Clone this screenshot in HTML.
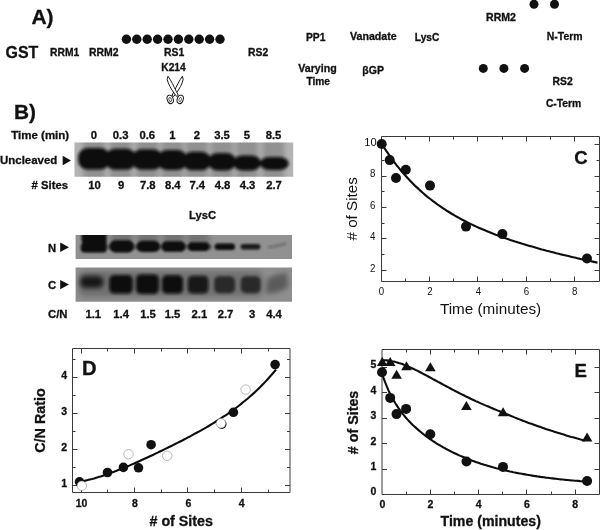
<!DOCTYPE html>
<html><head><meta charset="utf-8"><title>Figure</title>
<style>
html,body{margin:0;padding:0;background:#fff;}
body{width:600px;height:530px;overflow:hidden;}
svg{display:block;font-family:"Liberation Sans",sans-serif;fill:#111;}
</style></head><body>
<svg width="600" height="530" viewBox="0 0 600 530">
<defs>
<filter id="b1" x="-30%" y="-30%" width="160%" height="160%"><feGaussianBlur stdDeviation="1.6"/></filter>
<filter id="b2" x="-30%" y="-30%" width="160%" height="160%"><feGaussianBlur stdDeviation="2.4"/></filter>
<filter id="b4" x="-30%" y="-30%" width="160%" height="160%"><feGaussianBlur stdDeviation="1.7"/></filter>
<filter id="b3" x="-30%" y="-30%" width="160%" height="160%"><feGaussianBlur stdDeviation="1.1"/></filter>
<filter id="noop" x="0" y="0" width="100%" height="100%" filterUnits="userSpaceOnUse"><feOffset dx="0" dy="0"/></filter>
<clipPath id="cg1"><rect x="74.5" y="142.6" width="218.7" height="34.1"/></clipPath>
<clipPath id="cg2"><rect x="75.6" y="235" width="216.4" height="23.9"/></clipPath>
<clipPath id="cg3"><rect x="75.6" y="267.5" width="216.4" height="34.3"/></clipPath>
</defs>
<rect width="600" height="530" fill="#fff"/>
<g filter="url(#noop)">

<g id="panelA">
<text x="31.4" y="23.8" font-size="20.6" font-weight="bold" stroke="#111" stroke-width="0.3" textLength="22.2" lengthAdjust="spacingAndGlyphs">A)</text>
<text x="5.5" y="58.0" font-size="16.6" font-weight="bold" stroke="#111" stroke-width="0.3" textLength="32.8" lengthAdjust="spacingAndGlyphs">GST</text>
<text x="50" y="56.4" font-size="10.4" font-weight="bold" stroke="#111" stroke-width="0.3" textLength="29.2" lengthAdjust="spacingAndGlyphs">RRM1</text>
<text x="89" y="56.4" font-size="10.4" font-weight="bold" stroke="#111" stroke-width="0.3" textLength="29.6" lengthAdjust="spacingAndGlyphs">RRM2</text>
<circle cx="126.4" cy="39.2" r="4.7"/>
<circle cx="136.8" cy="39.2" r="4.7"/>
<circle cx="147.2" cy="39.2" r="4.7"/>
<circle cx="157.6" cy="39.2" r="4.7"/>
<circle cx="168.0" cy="39.2" r="4.7"/>
<circle cx="178.4" cy="39.2" r="4.7"/>
<circle cx="188.8" cy="39.2" r="4.7"/>
<circle cx="199.2" cy="39.2" r="4.7"/>
<circle cx="209.6" cy="39.2" r="4.7"/>
<circle cx="220.0" cy="39.2" r="4.7"/>
<text x="164" y="56.1" font-size="10.4" font-weight="bold" stroke="#111" stroke-width="0.3">RS1</text>
<text x="248" y="56.1" font-size="10.4" font-weight="bold" stroke="#111" stroke-width="0.3">RS2</text>
<text x="161.3" y="71.2" font-size="10.2" font-weight="bold" stroke="#111" stroke-width="0.3" textLength="24.4" lengthAdjust="spacingAndGlyphs">K214</text>
<g fill="#fff" stroke="#111" stroke-width="0.95" stroke-linejoin="round">
<ellipse cx="170.2" cy="99.4" rx="3" ry="4.3" transform="rotate(-18 170.2 99.4)"/>
<ellipse cx="180.2" cy="99.4" rx="3" ry="4.3" transform="rotate(18 180.2 99.4)"/>
<ellipse cx="170.2" cy="99.6" rx="1.2" ry="2.2" transform="rotate(-18 170.2 99.6)" stroke-width="0.7"/>
<ellipse cx="180.2" cy="99.6" rx="1.2" ry="2.2" transform="rotate(18 180.2 99.6)" stroke-width="0.6"/>
<path d="M182.4,76.2 L183.2,79.4 C182.3,83.8 179.3,89.2 176.2,93.2 L173.7,96.5 L172.0,95.3 L174.0,91.6 C176.4,86.6 179.4,80.4 182.4,76.2 Z"/>
<path d="M168.0,76.2 L167.2,79.4 C168.1,83.8 171.1,89.2 174.2,93.2 L176.7,96.5 L178.4,95.3 L176.4,91.6 C174,86.6 171,80.4 168.0,76.2 Z"/>
</g>
<text x="306" y="40.6" font-size="10.3" font-weight="bold" stroke="#111" stroke-width="0.3">PP1</text>
<text x="350" y="40.2" font-size="10.3" font-weight="bold" stroke="#111" stroke-width="0.3" textLength="46.7" lengthAdjust="spacingAndGlyphs">Vanadate</text>
<text x="414.8" y="40.6" font-size="10.3" font-weight="bold" stroke="#111" stroke-width="0.3" textLength="24.5" lengthAdjust="spacingAndGlyphs">LysC</text>
<text x="298.3" y="72.2" font-size="10.3" font-weight="bold" stroke="#111" stroke-width="0.3" textLength="38.4" lengthAdjust="spacingAndGlyphs">Varying</text>
<text x="306.5" y="85" font-size="10.3" font-weight="bold" stroke="#111" stroke-width="0.3" textLength="23.5" lengthAdjust="spacingAndGlyphs">Time</text>
<text x="362.3" y="74.3" font-size="10.3" font-weight="bold" stroke="#111" stroke-width="0.3" textLength="21.6" lengthAdjust="spacingAndGlyphs">&#946;GP</text>
<circle cx="534" cy="4.2" r="4.5"/><circle cx="554.5" cy="4.2" r="4.5"/>
<text x="486" y="21.2" font-size="10.3" font-weight="bold" stroke="#111" stroke-width="0.3" textLength="30" lengthAdjust="spacingAndGlyphs">RRM2</text>
<text x="546.8" y="39.9" font-size="10.3" font-weight="bold" stroke="#111" stroke-width="0.3" textLength="35.7" lengthAdjust="spacingAndGlyphs">N-Term</text>
<circle cx="483.3" cy="68.4" r="4.5"/>
<circle cx="503.9" cy="68.4" r="4.5"/>
<circle cx="524.6" cy="68.4" r="4.5"/>
<text x="552.6" y="85.3" font-size="10.3" font-weight="bold" stroke="#111" stroke-width="0.3" textLength="20.1" lengthAdjust="spacingAndGlyphs">RS2</text>
<text x="545.9" y="106.7" font-size="10.3" font-weight="bold" stroke="#111" stroke-width="0.3" textLength="35.4" lengthAdjust="spacingAndGlyphs">C-Term</text>
</g>
<g id="panelB">
<text x="14.0" y="119.4" font-size="20.6" font-weight="bold" stroke="#111" stroke-width="0.3" textLength="22" lengthAdjust="spacingAndGlyphs">B)</text>
<text x="11.2" y="138.8" font-size="11.3" font-weight="bold" stroke="#111" stroke-width="0.3" textLength="58" lengthAdjust="spacingAndGlyphs">Time (min)</text>
<text x="94" y="138.8" font-size="11.3" font-weight="bold" stroke="#111" stroke-width="0.3" text-anchor="middle">0</text>
<text x="120.7" y="138.8" font-size="11.3" font-weight="bold" stroke="#111" stroke-width="0.3" text-anchor="middle">0.3</text>
<text x="147.3" y="138.8" font-size="11.3" font-weight="bold" stroke="#111" stroke-width="0.3" text-anchor="middle">0.6</text>
<text x="172.3" y="138.8" font-size="11.3" font-weight="bold" stroke="#111" stroke-width="0.3" text-anchor="middle">1</text>
<text x="196.8" y="138.8" font-size="11.3" font-weight="bold" stroke="#111" stroke-width="0.3" text-anchor="middle">2</text>
<text x="222" y="138.8" font-size="11.3" font-weight="bold" stroke="#111" stroke-width="0.3" text-anchor="middle">3.5</text>
<text x="247" y="138.8" font-size="11.3" font-weight="bold" stroke="#111" stroke-width="0.3" text-anchor="middle">5</text>
<text x="273.5" y="138.8" font-size="11.3" font-weight="bold" stroke="#111" stroke-width="0.3" text-anchor="middle">8.5</text>
<text x="94.5" y="189.4" font-size="11.3" font-weight="bold" stroke="#111" stroke-width="0.3" text-anchor="middle">10</text>
<text x="121.2" y="189.4" font-size="11.3" font-weight="bold" stroke="#111" stroke-width="0.3" text-anchor="middle">9</text>
<text x="147.8" y="189.4" font-size="11.3" font-weight="bold" stroke="#111" stroke-width="0.3" text-anchor="middle">7.8</text>
<text x="172.8" y="189.4" font-size="11.3" font-weight="bold" stroke="#111" stroke-width="0.3" text-anchor="middle">8.4</text>
<text x="197.3" y="189.4" font-size="11.3" font-weight="bold" stroke="#111" stroke-width="0.3" text-anchor="middle">7.4</text>
<text x="222.5" y="189.4" font-size="11.3" font-weight="bold" stroke="#111" stroke-width="0.3" text-anchor="middle">4.8</text>
<text x="247.5" y="189.4" font-size="11.3" font-weight="bold" stroke="#111" stroke-width="0.3" text-anchor="middle">4.3</text>
<text x="274.0" y="189.4" font-size="11.3" font-weight="bold" stroke="#111" stroke-width="0.3" text-anchor="middle">2.7</text>
<text x="0" y="164.2" font-size="11.3" font-weight="bold" stroke="#111" stroke-width="0.3" textLength="57.3" lengthAdjust="spacingAndGlyphs">Uncleaved</text>
<path d="M62.7,155.8 L71,160.5 L62.7,165.2 Z"/>
<text x="31.5" y="189.4" font-size="11.3" font-weight="bold" stroke="#111" stroke-width="0.3" textLength="36.5" lengthAdjust="spacingAndGlyphs"># Sites</text>
<g clip-path="url(#cg1)"><rect x="70" y="140" width="228" height="40" fill="#b3b3b3"/>
<g filter="url(#b2)" fill="#000" opacity="0.19">
<rect x="83.2" y="136" width="21.6" height="48"/>
<rect x="109.9" y="136" width="21.6" height="48"/>
<rect x="136.5" y="136" width="21.6" height="48"/>
<rect x="161.5" y="136" width="21.6" height="48"/>
<rect x="186.0" y="136" width="21.6" height="48"/>
<rect x="211.2" y="136" width="21.6" height="48"/>
<rect x="236.2" y="136" width="21.6" height="48"/>
<rect x="262.7" y="136" width="21.6" height="48"/>
</g>
<g filter="url(#b4)" fill="#0b0b0b">
<rect x="78.1" y="148" width="31.8" height="21.599999999999994" rx="9.5" ry="9.5"/>
<rect x="105.3" y="148.8" width="30.8" height="20.899999999999977" rx="9.5" ry="9.5"/>
<rect x="131.9" y="149.3" width="30.8" height="20.5" rx="9.5" ry="9.5"/>
<rect x="157.4" y="150" width="29.8" height="20" rx="9.5" ry="9.5"/>
<rect x="182.4" y="151.8" width="28.8" height="18.5" rx="9.5" ry="9.2"/>
<rect x="207.9" y="153" width="28.2" height="17.400000000000006" rx="9.5" ry="8.7"/>
<rect x="233.1" y="155.4" width="27.8" height="15.0" rx="9.5" ry="7.5"/>
<rect x="259.8" y="157" width="29.0" height="12.900000000000006" rx="9.5" ry="6.5"/>
</g></g>
<text x="189" y="218.5" font-size="11.3" font-weight="bold" stroke="#111" stroke-width="0.3" textLength="27" lengthAdjust="spacingAndGlyphs">LysC</text>
<text x="48" y="251.7" font-size="11.3" font-weight="bold" stroke="#111" stroke-width="0.3">N</text>
<path d="M60.2,242.6 L69,247.3 L60.2,252 Z"/>
<text x="48" y="288.9" font-size="11.3" font-weight="bold" stroke="#111" stroke-width="0.3">C</text>
<path d="M60.2,279.9 L69,284.6 L60.2,289.3 Z"/>
<g clip-path="url(#cg2)"><rect x="70" y="230" width="228" height="34" fill="#919191"/>
<g filter="url(#b2)" fill="#000" opacity="0.2">
<rect x="111.0" y="226" width="21" height="22"/>
<rect x="137.5" y="226" width="21" height="22"/>
<rect x="163.0" y="226" width="21" height="22"/>
<rect x="188.0" y="226" width="21" height="22"/>
</g>
<g filter="url(#b3)" fill="#0a0a0a">
<path d="M81.5,230 H106.5 V250 Q106.5,252.5 103,252.5 H85 Q80.8,252.5 80.8,249 V245.5 Q83,243 81.5,239.5 Z"/>
<rect x="100" y="244.5" width="112" height="5" opacity="0.28"/>
<rect x="109.5" y="240.3" width="24.5" height="12.099999999999994" rx="6.0" opacity="1"/>
<rect x="136.5" y="240.8" width="23.5" height="11.199999999999989" rx="5.6" opacity="1"/>
<rect x="161.5" y="241.3" width="24.0" height="10.5" rx="5.2" opacity="1"/>
<rect x="187.8" y="242.2" width="21.799999999999983" height="8.700000000000017" rx="4.4" opacity="1"/>
<rect x="214.6" y="243.4" width="20.400000000000006" height="6.5" rx="3.2" opacity="1"/>
<rect x="240.6" y="244.0" width="19.799999999999983" height="5.5" rx="2.8" opacity="0.9"/>
<path d="M268,247.3 Q277,246.6 286,243.4" stroke="#222" stroke-width="2.2" fill="none" opacity="0.33"/>
</g></g>
<g clip-path="url(#cg3)"><rect x="70" y="262" width="228" height="44" fill="#8e8e8e"/>
<g filter="url(#b2)" fill="#000" opacity="0.2">
<rect x="79" y="271" width="184" height="26" rx="6"/>
</g>
<g filter="url(#b2)" fill="#080808">
<rect x="80" y="276" width="23.5" height="12" rx="5" opacity="0.8"/>
</g>
<g filter="url(#b1)" fill="#080808">
<rect x="109.3" y="275" width="23.39999999999999" height="18.600000000000023" rx="5" opacity="1"/>
<rect x="136" y="274.4" width="22.80000000000001" height="19.600000000000023" rx="5" opacity="1"/>
<rect x="162" y="275.2" width="21" height="18.400000000000034" rx="5" opacity="1"/>
<rect x="187.8" y="275.8" width="20.599999999999994" height="17.80000000000001" rx="5" opacity="0.9"/>
<rect x="214.2" y="276.3" width="20.80000000000001" height="17.0" rx="5" opacity="0.64"/>
<rect x="240.8" y="276.3" width="19.80000000000001" height="17.0" rx="5" opacity="0.64"/>
</g>
<g filter="url(#b2)" fill="#080808">
<path d="M266,294 L267,279 Q275,274 287,273 L288,287 Q280,293 266,294 Z" opacity="0.36"/>
</g></g>
<text x="48" y="318.3" font-size="11.3" font-weight="bold" stroke="#111" stroke-width="0.3" textLength="19.5" lengthAdjust="spacingAndGlyphs">C/N</text>
<text x="93.3" y="318.3" font-size="11.3" font-weight="bold" stroke="#111" stroke-width="0.3" text-anchor="middle">1.1</text>
<text x="121.2" y="318.3" font-size="11.3" font-weight="bold" stroke="#111" stroke-width="0.3" text-anchor="middle">1.4</text>
<text x="148" y="318.3" font-size="11.3" font-weight="bold" stroke="#111" stroke-width="0.3" text-anchor="middle">1.5</text>
<text x="172.5" y="318.3" font-size="11.3" font-weight="bold" stroke="#111" stroke-width="0.3" text-anchor="middle">1.5</text>
<text x="199.4" y="318.3" font-size="11.3" font-weight="bold" stroke="#111" stroke-width="0.3" text-anchor="middle">2.1</text>
<text x="225.5" y="318.3" font-size="11.3" font-weight="bold" stroke="#111" stroke-width="0.3" text-anchor="middle">2.7</text>
<text x="252.2" y="318.3" font-size="11.3" font-weight="bold" stroke="#111" stroke-width="0.3" text-anchor="middle">3</text>
<text x="274" y="318.3" font-size="11.3" font-weight="bold" stroke="#111" stroke-width="0.3" text-anchor="middle">4.4</text>
</g>
<g id="panelC">
<g stroke="#3a3a3a" stroke-width="1" fill="none">
<path d="M381.5,136.5 H599.5 V281.5 H381.5 Z"/>
<path d="M405.5,281.5 v-3 M405.5,136.5 v3 M429.5,281.5 v-5 M429.5,136.5 v5 M453.5,281.5 v-3 M453.5,136.5 v3 M477.5,281.5 v-5 M477.5,136.5 v5 M502.5,281.5 v-3 M502.5,136.5 v3 M526.5,281.5 v-5 M526.5,136.5 v5 M550.5,281.5 v-3 M550.5,136.5 v3 M574.5,281.5 v-5 M574.5,136.5 v5 M381.5,270.5 h5 M599.5,270.5 h-5 M381.5,254.5 h3 M599.5,254.5 h-3 M381.5,238.5 h5 M599.5,238.5 h-5 M381.5,223.5 h3 M599.5,223.5 h-3 M381.5,207.5 h5 M599.5,207.5 h-5 M381.5,191.5 h3 M599.5,191.5 h-3 M381.5,176.5 h5 M599.5,176.5 h-5 M381.5,160.5 h3 M599.5,160.5 h-3 M381.5,144.5 h5 M599.5,144.5 h-5 "/></g>
<text x="375.5" y="271.5" font-size="10" text-anchor="end" textLength="5.4" lengthAdjust="spacingAndGlyphs">2</text>
<text x="375.5" y="240.1" font-size="10" text-anchor="end" textLength="5.4" lengthAdjust="spacingAndGlyphs">4</text>
<text x="375.5" y="208.5" font-size="10" text-anchor="end" textLength="5.4" lengthAdjust="spacingAndGlyphs">6</text>
<text x="375.5" y="177.2" font-size="10" text-anchor="end" textLength="5.4" lengthAdjust="spacingAndGlyphs">8</text>
<text x="364.3" y="145.6" font-size="10" textLength="12.3" lengthAdjust="spacingAndGlyphs">10</text>
<text x="381.5" y="295" font-size="10" text-anchor="middle" textLength="5.4" lengthAdjust="spacingAndGlyphs">0</text>
<text x="429.94" y="295" font-size="10" text-anchor="middle" textLength="5.4" lengthAdjust="spacingAndGlyphs">2</text>
<text x="478.38" y="295" font-size="10" text-anchor="middle" textLength="5.4" lengthAdjust="spacingAndGlyphs">4</text>
<text x="526.52" y="295" font-size="10" text-anchor="middle" textLength="5.4" lengthAdjust="spacingAndGlyphs">6</text>
<text x="574.66" y="295" font-size="10" text-anchor="middle" textLength="5.4" lengthAdjust="spacingAndGlyphs">8</text>
<text x="439.9" y="313.8" font-size="14.3" textLength="101.3" lengthAdjust="spacingAndGlyphs">Time (minutes)</text>
<text transform="translate(356.7,240.5) rotate(-90)" font-size="14.3" textLength="63.3" lengthAdjust="spacingAndGlyphs"># of Sites</text>
<text x="574.3" y="163.6" font-size="18.5" font-weight="bold" stroke="#111" stroke-width="0.3">C</text>
<path d="M381.8,143.9 L384.2,147.7 L386.6,151.4 L389.1,154.9 L391.5,158.3 L393.9,161.6 L396.3,164.8 L398.8,167.8 L401.2,170.8 L403.6,173.6 L406.0,176.3 L408.5,179.0 L410.9,181.5 L413.3,184.0 L415.7,186.4 L418.2,188.6 L420.6,190.9 L423.0,193.0 L425.4,195.1 L427.8,197.1 L430.3,199.0 L432.7,200.9 L435.1,202.7 L437.5,204.5 L440.0,206.2 L442.4,207.8 L444.8,209.4 L447.2,211.0 L449.7,212.5 L452.1,214.0 L454.5,215.4 L456.9,216.8 L459.4,218.1 L461.8,219.5 L464.2,220.7 L466.6,222.0 L469.0,223.2 L471.5,224.4 L473.9,225.5 L476.3,226.6 L478.7,227.7 L481.2,228.8 L483.6,229.8 L486.0,230.8 L488.4,231.8 L490.9,232.8 L493.3,233.7 L495.7,234.7 L498.1,235.6 L500.6,236.5 L503.0,237.3 L505.4,238.2 L507.8,239.0 L510.3,239.9 L512.7,240.7 L515.1,241.5 L517.5,242.2 L519.9,243.0 L522.4,243.8 L524.8,244.5 L527.2,245.2 L529.6,245.9 L532.1,246.6 L534.5,247.3 L536.9,248.0 L539.3,248.7 L541.8,249.4 L544.2,250.0 L546.6,250.7 L549.0,251.3 L551.5,251.9 L553.9,252.5 L556.3,253.2 L558.7,253.8 L561.1,254.4 L563.6,254.9 L566.0,255.5 L568.4,256.1 L570.8,256.7 L573.3,257.3 L575.7,257.8 L578.1,258.4 L580.5,258.9 L583.0,259.5 L585.4,260.0 L587.8,260.5 L590.2,261.1 L592.7,261.6 L595.1,262.1 L597.5,262.6" fill="none" stroke="#0d0d0d" stroke-width="2.1"/>
<circle cx="381.7" cy="144" r="5"/>
<circle cx="389.7" cy="160.1" r="5"/>
<circle cx="396" cy="178" r="5"/>
<circle cx="405.8" cy="169.7" r="5"/>
<circle cx="430" cy="185.6" r="5"/>
<circle cx="466" cy="226.6" r="5"/>
<circle cx="502.4" cy="234.1" r="5"/>
<circle cx="587" cy="258.5" r="5"/>
</g>
<g id="panelD">
<g stroke="#3a3a3a" stroke-width="1" fill="none">
<path d="M72.5,348.5 H290.0 V492.5 H72.5 Z"/>
<path d="M268.5,492.5 v-3 M268.5,348.5 v3 M241.5,492.5 v-5 M241.5,348.5 v5 M214.5,492.5 v-3 M214.5,348.5 v3 M187.5,492.5 v-5 M187.5,348.5 v5 M161.5,492.5 v-3 M161.5,348.5 v3 M134.5,492.5 v-5 M134.5,348.5 v5 M107.5,492.5 v-3 M107.5,348.5 v3 M81.5,492.5 v-5 M81.5,348.5 v5 M72.5,485.5 h5 M290.0,485.5 h-5 M72.5,467.5 h3 M290.0,467.5 h-3 M72.5,449.5 h5 M290.0,449.5 h-5 M72.5,431.5 h3 M290.0,431.5 h-3 M72.5,413.5 h5 M290.0,413.5 h-5 M72.5,395.5 h3 M290.0,395.5 h-3 M72.5,377.5 h5 M290.0,377.5 h-5 M72.5,359.5 h3 M290.0,359.5 h-3 "/></g>
<text x="67.0" y="486.6" font-size="10.5" font-weight="bold" stroke="#111" stroke-width="0.3" text-anchor="end">1</text>
<text x="67.0" y="450.6" font-size="10.5" font-weight="bold" stroke="#111" stroke-width="0.3" text-anchor="end">2</text>
<text x="67.0" y="414.6" font-size="10.5" font-weight="bold" stroke="#111" stroke-width="0.3" text-anchor="end">3</text>
<text x="67.0" y="378.6" font-size="10.5" font-weight="bold" stroke="#111" stroke-width="0.3" text-anchor="end">4</text>
<text x="81.5" y="506.9" font-size="10.5" font-weight="bold" stroke="#111" stroke-width="0.3" text-anchor="middle">10</text>
<text x="134.9" y="506.9" font-size="10.5" font-weight="bold" stroke="#111" stroke-width="0.3" text-anchor="middle">8</text>
<text x="188.29999999999998" y="506.9" font-size="10.5" font-weight="bold" stroke="#111" stroke-width="0.3" text-anchor="middle">6</text>
<text x="241.7" y="506.9" font-size="10.5" font-weight="bold" stroke="#111" stroke-width="0.3" text-anchor="middle">4</text>
<text x="149.5" y="526.1" font-size="14" font-weight="bold" stroke="#111" stroke-width="0.3" textLength="63.4" lengthAdjust="spacingAndGlyphs"># of Sites</text>
<text transform="translate(44.6,452.8) rotate(-90)" font-size="14" font-weight="bold" stroke="#111" stroke-width="0.3" textLength="64.6" lengthAdjust="spacingAndGlyphs">C/N Ratio</text>
<text x="82" y="374.7" font-size="19.5" font-weight="bold" stroke="#111" stroke-width="0.3" textLength="14.6" lengthAdjust="spacingAndGlyphs">D</text>
<path d="M81.0,481.4 L83.2,481.0 L85.4,480.6 L87.6,480.1 L89.8,479.5 L92.0,479.0 L94.1,478.4 L96.3,477.7 L98.5,477.1 L100.7,476.4 L102.9,475.7 L105.1,475.0 L107.3,474.2 L109.5,473.4 L111.7,472.6 L113.9,471.8 L116.1,470.9 L118.2,470.1 L120.4,469.2 L122.6,468.3 L124.8,467.4 L127.0,466.5 L129.2,465.6 L131.4,464.6 L133.6,463.7 L135.8,462.7 L138.0,461.7 L140.2,460.8 L142.3,459.8 L144.5,458.8 L146.7,457.8 L148.9,456.7 L151.1,455.7 L153.3,454.7 L155.5,453.6 L157.7,452.6 L159.9,451.5 L162.1,450.5 L164.3,449.4 L166.4,448.4 L168.6,447.3 L170.8,446.2 L173.0,445.1 L175.2,444.0 L177.4,442.9 L179.6,441.8 L181.8,440.7 L184.0,439.5 L186.2,438.4 L188.4,437.2 L190.6,436.1 L192.7,434.9 L194.9,433.7 L197.1,432.5 L199.3,431.3 L201.5,430.1 L203.7,428.8 L205.9,427.6 L208.1,426.3 L210.3,425.0 L212.5,423.7 L214.7,422.3 L216.8,421.0 L219.0,419.6 L221.2,418.2 L223.4,416.7 L225.6,415.3 L227.8,413.8 L230.0,412.2 L232.2,410.7 L234.4,409.1 L236.6,407.5 L238.8,405.8 L240.9,404.1 L243.1,402.3 L245.3,400.5 L247.5,398.7 L249.7,396.8 L251.9,394.9 L254.1,392.9 L256.3,390.8 L258.5,388.7 L260.7,386.6 L262.9,384.3 L265.0,382.1 L267.2,379.7 L269.4,377.3 L271.6,374.8 L273.8,372.2 L276.0,369.6" fill="none" stroke="#0d0d0d" stroke-width="2.1"/>
<circle cx="79.5" cy="481.8" r="4.8"/>
<circle cx="107.5" cy="472.5" r="4.8"/>
<circle cx="123.4" cy="467.4" r="4.8"/>
<circle cx="138.5" cy="467.8" r="4.8"/>
<circle cx="151.1" cy="444.7" r="4.8"/>
<circle cx="221.8" cy="424.1" r="4.8"/>
<circle cx="233.4" cy="412.3" r="4.8"/>
<circle cx="275.1" cy="364.6" r="4.8"/>
<circle cx="81.8" cy="485.8" r="4.75" fill="#fff" stroke="#777" stroke-width="0.5"/>
<circle cx="128.5" cy="454.3" r="4.75" fill="#fff" stroke="#777" stroke-width="0.5"/>
<circle cx="167.2" cy="455.8" r="4.75" fill="#fff" stroke="#777" stroke-width="0.5"/>
<circle cx="221" cy="423.3" r="4.75" fill="#fff" stroke="#777" stroke-width="0.5"/>
<circle cx="245.6" cy="389.6" r="4.75" fill="#fff" stroke="#777" stroke-width="0.5"/>
</g>
<g id="panelE">
<g stroke="#3a3a3a" stroke-width="1" fill="none">
<path d="M382.0,349.5 H599.5 V494.5 H382.0 Z"/>
<path d="M406.5,494.5 v-3 M406.5,349.5 v3 M430.5,494.5 v-5 M430.5,349.5 v5 M454.5,494.5 v-3 M454.5,349.5 v3 M478.5,494.5 v-5 M478.5,349.5 v5 M502.5,494.5 v-3 M502.5,349.5 v3 M526.5,494.5 v-5 M526.5,349.5 v5 M551.5,494.5 v-3 M551.5,349.5 v3 M575.5,494.5 v-5 M575.5,349.5 v5 M382.0,469.5 h5 M599.5,469.5 h-5 M382.0,443.5 h5 M599.5,443.5 h-5 M382.0,418.5 h5 M599.5,418.5 h-5 M382.0,392.5 h5 M599.5,392.5 h-5 M382.0,367.5 h5 M599.5,367.5 h-5 "/></g>
<text x="376.3" y="494.9" font-size="10.5" font-weight="bold" stroke="#111" stroke-width="0.3" text-anchor="end">0</text>
<text x="376.3" y="469.9" font-size="10.5" font-weight="bold" stroke="#111" stroke-width="0.3" text-anchor="end">1</text>
<text x="376.3" y="444.5" font-size="10.5" font-weight="bold" stroke="#111" stroke-width="0.3" text-anchor="end">2</text>
<text x="376.3" y="419.1" font-size="10.5" font-weight="bold" stroke="#111" stroke-width="0.3" text-anchor="end">3</text>
<text x="376.3" y="394.0" font-size="10.5" font-weight="bold" stroke="#111" stroke-width="0.3" text-anchor="end">4</text>
<text x="376.3" y="368.0" font-size="10.5" font-weight="bold" stroke="#111" stroke-width="0.3" text-anchor="end">5</text>
<text x="382.3" y="508.2" font-size="10.5" font-weight="bold" stroke="#111" stroke-width="0.3" text-anchor="middle">0</text>
<text x="430.5" y="508.2" font-size="10.5" font-weight="bold" stroke="#111" stroke-width="0.3" text-anchor="middle">2</text>
<text x="478.70000000000005" y="508.2" font-size="10.5" font-weight="bold" stroke="#111" stroke-width="0.3" text-anchor="middle">4</text>
<text x="526.9000000000001" y="508.2" font-size="10.5" font-weight="bold" stroke="#111" stroke-width="0.3" text-anchor="middle">6</text>
<text x="575.1" y="508.2" font-size="10.5" font-weight="bold" stroke="#111" stroke-width="0.3" text-anchor="middle">8</text>
<text x="440.5" y="526" font-size="13.9" font-weight="bold" stroke="#111" stroke-width="0.3" textLength="100.4" lengthAdjust="spacingAndGlyphs">Time (minutes)</text>
<text transform="translate(357.7,454.2) rotate(-90)" font-size="14.2" font-weight="bold" stroke="#111" stroke-width="0.3" textLength="63.5" lengthAdjust="spacingAndGlyphs"># of Sites</text>
<text x="574.6" y="377.4" font-size="19" font-weight="bold" stroke="#111" stroke-width="0.3" textLength="12.4" lengthAdjust="spacingAndGlyphs">E</text>
<path d="M381.8,372.7 L383.5,377.8 L385.2,382.4 L386.9,386.7 L388.6,390.6 L390.3,394.2 L392.0,397.5 L393.8,400.6 L395.5,403.5 L397.2,406.1 L398.9,408.7 L400.6,411.0 L402.3,413.3 L404.0,415.4 L405.7,417.5 L407.4,419.4 L409.1,421.2 L410.8,423.0 L412.5,424.7 L414.2,426.3 L416.0,427.9 L417.7,429.4 L419.4,430.9 L421.1,432.3 L422.8,433.7 L424.5,435.0 L426.2,436.3 L427.9,437.5 L429.6,438.8 L431.3,439.9 L433.0,441.1 L434.7,442.2 L436.4,443.3 L438.1,444.3 L439.9,445.4 L441.6,446.4 L443.3,447.4 L445.0,448.3 L446.7,449.2 L448.4,450.1 L450.1,451.0 L451.8,451.9 L453.5,452.7 L455.2,453.5 L456.9,454.3 L458.6,455.1 L460.3,455.9 L462.1,456.6 L463.8,457.3 L465.5,458.0 L467.2,458.7 L468.9,459.4 L470.6,460.0 L472.3,460.7 L474.0,461.3 L475.7,461.9 L477.4,462.5 L479.1,463.1 L480.8,463.7 L482.5,464.2 L484.3,464.8 L486.0,465.3 L487.7,465.8 L489.4,466.3 L491.1,466.8 L492.8,467.3 L494.5,467.7 L496.2,468.2 L497.9,468.6 L499.6,469.1 L501.3,469.5 L503.0,469.9 L504.7,470.3 L506.5,470.7 L508.2,471.1 L509.9,471.5 L511.6,471.8 L513.3,472.2 L515.0,472.5 L516.7,472.9 L518.4,473.2 L520.1,473.5 L521.8,473.8 L523.5,474.1 L525.2,474.4 L526.9,474.7 L528.7,475.0 L530.4,475.3 L532.1,475.6 L533.8,475.9 L535.5,476.1 L537.2,476.4 L538.9,476.6 L540.6,476.9 L542.3,477.1 L544.0,477.3 L545.7,477.6 L547.4,477.8 L549.1,478.0 L550.8,478.2 L552.6,478.4 L554.3,478.6 L556.0,478.8 L557.7,479.0 L559.4,479.2 L561.1,479.4 L562.8,479.5 L564.5,479.7 L566.2,479.9 L567.9,480.0 L569.6,480.2 L571.3,480.4 L573.0,480.5 L574.8,480.7 L576.5,480.8 L578.2,480.9 L579.9,481.1 L581.6,481.2 L583.3,481.4 L585.0,481.5" fill="none" stroke="#0d0d0d" stroke-width="2.1"/>
<path d="M381.8,360.3 L383.5,360.2 L385.2,360.3 L386.9,360.4 L388.6,360.6 L390.3,360.8 L392.0,361.2 L393.8,361.5 L395.5,362.0 L397.2,362.4 L398.9,363.0 L400.6,363.5 L402.3,364.1 L404.0,364.8 L405.7,365.4 L407.4,366.2 L409.1,366.9 L410.8,367.7 L412.5,368.5 L414.2,369.3 L416.0,370.1 L417.7,370.9 L419.4,371.8 L421.1,372.7 L422.8,373.6 L424.5,374.5 L426.2,375.4 L427.9,376.3 L429.6,377.2 L431.3,378.1 L433.0,379.1 L434.7,380.0 L436.4,380.9 L438.1,381.9 L439.9,382.8 L441.6,383.7 L443.3,384.7 L445.0,385.6 L446.7,386.5 L448.4,387.4 L450.1,388.3 L451.8,389.2 L453.5,390.1 L455.2,391.0 L456.9,391.9 L458.6,392.8 L460.3,393.6 L462.1,394.5 L463.8,395.3 L465.5,396.2 L467.2,397.0 L468.9,397.8 L470.6,398.7 L472.3,399.5 L474.0,400.3 L475.7,401.1 L477.4,401.8 L479.1,402.6 L480.8,403.4 L482.5,404.1 L484.3,404.9 L486.0,405.6 L487.7,406.3 L489.4,407.0 L491.1,407.8 L492.8,408.5 L494.5,409.2 L496.2,409.9 L497.9,410.6 L499.6,411.3 L501.3,412.0 L503.0,412.7 L504.7,413.4 L506.5,414.1 L508.2,414.8 L509.9,415.5 L511.6,416.2 L513.3,416.9 L515.0,417.6 L516.7,418.3 L518.4,418.9 L520.1,419.6 L521.8,420.3 L523.5,420.9 L525.2,421.6 L526.9,422.2 L528.7,422.9 L530.4,423.5 L532.1,424.1 L533.8,424.7 L535.5,425.3 L537.2,425.9 L538.9,426.5 L540.6,427.1 L542.3,427.7 L544.0,428.3 L545.7,428.9 L547.4,429.4 L549.1,430.0 L550.8,430.6 L552.6,431.1 L554.3,431.7 L556.0,432.2 L557.7,432.8 L559.4,433.3 L561.1,433.8 L562.8,434.3 L564.5,434.8 L566.2,435.4 L567.9,435.9 L569.6,436.4 L571.3,436.9 L573.0,437.3 L574.8,437.8 L576.5,438.3 L578.2,438.8 L579.9,439.3 L581.6,439.7 L583.3,440.2 L585.0,440.6" fill="none" stroke="#0d0d0d" stroke-width="2.1"/>
<circle cx="382" cy="372.2" r="5"/>
<circle cx="390.2" cy="397.9" r="5"/>
<circle cx="396.5" cy="414.1" r="5"/>
<circle cx="406.1" cy="408.9" r="5"/>
<circle cx="430.3" cy="434.2" r="5"/>
<circle cx="466.5" cy="461.5" r="5"/>
<circle cx="503" cy="466.9" r="5"/>
<circle cx="587.1" cy="481" r="5"/>
<path d="M376.9,366.1 L387.5,366.1 L382.2,357.1 Z"/>
<path d="M384.9,366.1 L395.5,366.1 L390.2,357.1 Z"/>
<path d="M391.3,378.7 L401.9,378.7 L396.6,369.7 Z"/>
<path d="M401.2,370.3 L411.8,370.3 L406.5,361.3 Z"/>
<path d="M425.1,371.2 L435.7,371.2 L430.4,362.2 Z"/>
<path d="M461.1,409.9 L471.7,409.9 L466.4,400.9 Z"/>
<path d="M497.8,416.2 L508.4,416.2 L503.1,407.2 Z"/>
<path d="M581.8,441.6 L592.4,441.6 L587.1,432.6 Z"/>
</g>
</g></svg></body></html>
